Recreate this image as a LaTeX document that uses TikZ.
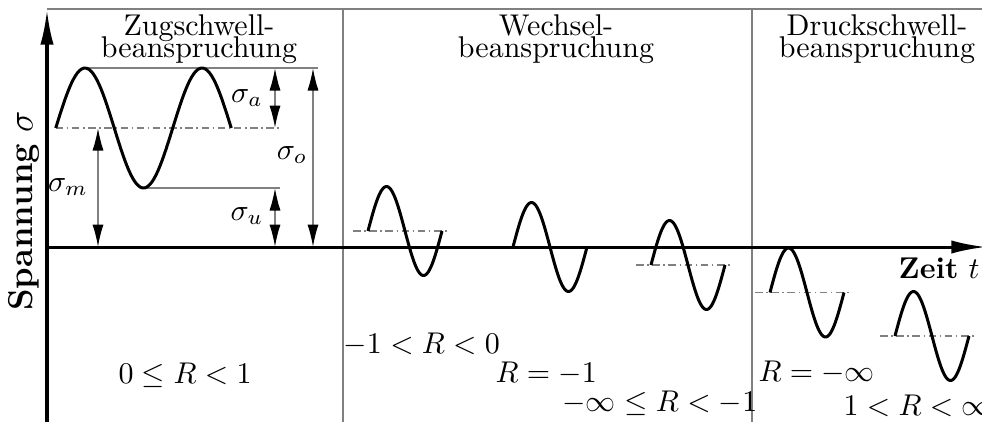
\documentclass[tikz,border=0pt]{standalone}
\usetikzlibrary{arrows.meta}
\tikzstyle{welle}=[line width=1pt,line join=round]
\tikzstyle{mittel}=[gray,line width=0.5pt,dash pattern=on 2.5pt off 1.2pt on 0.5pt off 1.2pt]
\tikzstyle{hilf}=[gray,line width=0.5pt]
\tikzstyle{achse}=[line width=1pt,-{Latex[length=11.5pt,width=4.4pt]}]
\tikzstyle{mass}=[gray,line width=0.5pt,{Latex[black,length=7.5pt,width=3.7pt]}-{Latex[black,length=7.5pt,width=3.7pt]}]
\tikzstyle{titel}=[align=center,anchor=north,inner sep=0pt]
\tikzstyle{rwert}=[anchor=base west,inner sep=0pt]

\begin{document}
\begin{tikzpicture}[x=0.3333pt,y=-0.3333pt]
\useasboundingbox (0,0) rectangle (982,422);
% Rahmen und Trennlinien
\coordinate (RL) at (47,9);
\coordinate (RR) at (982,9);
\draw[hilf] (RL) -- (RR);
\foreach \xt in {343,752}
  \draw[hilf] (\xt,9) -- (\xt,422);
% Zugschwell: Hilfslinien
\coordinate (Po) at (85,68);
\coordinate (Pu) at (143.5,188);
\coordinate (M0) at (55.75,128);
\draw[hilf] (Po) -- (318,68);
\draw[hilf] (Pu) -- (280,188);
\draw[mittel] (M0) -- (280,128);
% Massangaben
\coordinate (a1) at (275,68);  \coordinate (a2) at (275,128);
\coordinate (u1) at (275,188); \coordinate (u2) at (275,247);
\coordinate (o1) at (313,68);  \coordinate (o2) at (313,247);
\coordinate (m1) at (98,128);  \coordinate (m2) at (98,247);
\draw[mass] (a1) -- (a2);
\draw[mass] (u1) -- (u2);
\draw[mass] (o1) -- (o2);
\draw[mass] (m1) -- (m2);
\node (sa) at (247,98) {$\sigma_a$};
\node (su) at (247,216) {$\sigma_u$};
\node (so) at (292,155) {$\sigma_o$};
\node (sm) at (68,187) {$\sigma_m$};
% Mittellinien der kleinen Wellen
\foreach \xa/\ym in {368/231,651/265,770/292.5,895/336}
  \draw[mittel] (\xa-15,\ym) -- (\xa+80,\ym);
% Wellen
\draw[welle] plot[domain=0:540,samples=90] ({55.75+\x/360*117},{128-60*sin(\x)});
\foreach \xa/\ym in {368/231,513/247,651/265,770/292.5,895/336}
  \draw[welle] plot[domain=0:360,samples=60] ({\xa+\x/360*74},{\ym-44.5*sin(\x)});
% Achsen
\coordinate (O) at (47,247);
\coordinate (Yu) at (47,422);
\coordinate (Y) at (47,10);
\coordinate (X) at (986,247);
\draw[achse] (Yu) -- (Y);
\draw[achse] (O) -- (X);
\node[rotate=90,font=\fontsize{11.5}{14}\selectfont] (ys) at (24,211) {\textbf{Spannung} $\sigma$};
\node[anchor=base east,inner sep=0pt] (xs) at (980,278) {\textbf{Zeit} $t$};
% Ueberschriften
\node[titel] (t1) at (199,14) {Zugschwell-\\[-4.7pt]beanspruchung};
\node[titel] (t2) at (556,14) {Wechsel-\\[-4.7pt]beanspruchung};
\node[titel] (t3) at (877,14) {Druckschwell-\\[-4.7pt]beanspruchung};
% Spannungsverhaeltnisse
\node[rwert] (r1) at (118,383) {$0\le R<1$};
\node[rwert] (r2) at (343,353) {$-1<R<0$};
\node[rwert] (r3) at (495,382) {$R=-1$};
\node[rwert] (r4) at (562,411) {$-\infty\le R<-1$};
\node[rwert] (r5) at (758,381) {$R=-\infty$};
\node[rwert] (r6) at (843,415) {$1<R<\infty$};
\end{tikzpicture}
\end{document}
